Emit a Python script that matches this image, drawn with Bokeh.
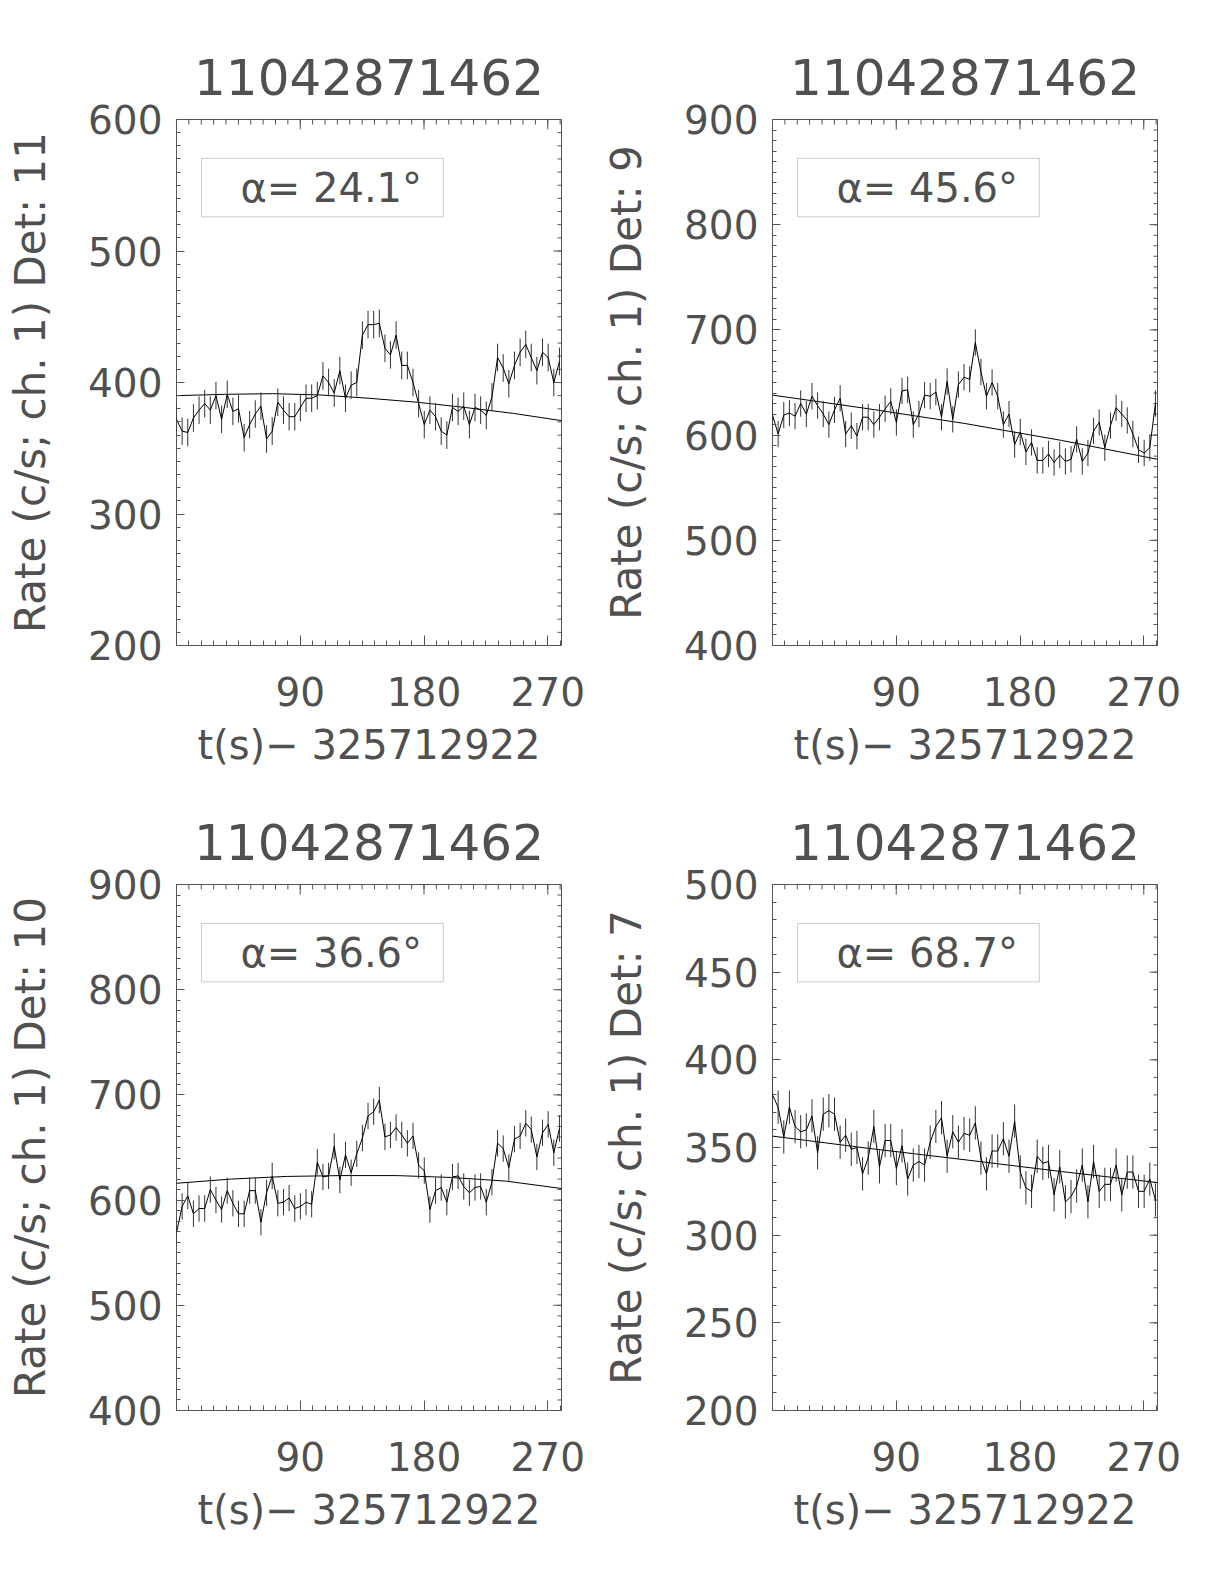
import math
from bokeh.plotting import figure
from bokeh.models import Range1d, FixedTicker, LinearAxis, Label, BoxAnnotation
from bokeh.layouts import column, row
from bokeh.embed import file_html
from bokeh.resources import INLINE

# ---------------- data ----------------
title_text = "11042871462"
x_label = "t(s)\u2212 325712922"
x_lim = (0, 280)
x_major = [90, 180, 270]
x_minor = list(range(0, 281, 9))

t = [0.0, 4.1, 8.2, 12.3, 16.4, 20.5, 24.6, 28.7, 32.8, 36.9, 41.0, 45.1, 49.2,
     53.2, 57.3, 61.4, 65.5, 69.6, 73.7, 77.8, 81.9, 86.0, 90.1, 94.2, 98.3,
     102.4, 106.5, 110.6, 114.7, 118.8, 122.9, 127.0, 131.1, 135.2, 139.3,
     143.4, 147.5, 151.6, 155.6, 159.7, 163.8, 167.9, 172.0, 176.1, 180.2,
     184.3, 188.4, 192.5, 196.6, 200.7, 204.8, 208.9, 213.0, 217.1, 221.2,
     225.3, 229.4, 233.5, 237.6, 241.7, 245.8, 249.9, 254.0, 258.0, 262.1,
     266.2, 270.3, 274.4, 278.5]

# Det 11
rate_d11 = [372, 363, 362, 373, 379, 384, 379, 390, 372, 391,
            378, 380, 358, 368, 376, 382, 357, 363, 385, 379,
            374, 374, 381, 388, 388, 390, 405, 400, 392, 409,
            388, 398, 400, 436, 444, 444, 445, 426, 421, 436,
            413, 413, 400, 384, 368, 379, 374, 363, 360, 381,
            378, 382, 368, 381, 379, 375, 389, 419, 411, 399,
            413, 423, 429, 419, 409, 423, 419, 400, 416]
err_d11 = 10.5
fit_t_d11 = [0, 35, 70, 105, 140, 175, 210, 245, 280]
fit_d11 = [390, 391, 391.5, 390.5, 388, 385, 381, 376.5, 371]

# Det 9
rate_d9 = [619, 601, 619, 621, 618, 630, 620, 637, 628, 620,
           610, 624, 635, 601, 609, 599, 617, 617, 610, 617,
           625, 632, 612, 642, 643, 610, 620, 638, 637, 641,
           617, 651, 615, 648, 655, 653, 688, 660, 637, 650,
           637, 610, 620, 591, 603, 584, 593, 576, 576, 582,
           574, 581, 575, 577, 596, 575, 583, 604, 612, 588,
           609, 626, 620, 614, 601, 586, 583, 588, 630]
err_d9 = 12.5
fit_t_d9 = [0, 70, 140, 210, 280]
fit_d9 = [638, 625, 611, 595, 577]

# Det 10
rate_d10 = [569, 594, 604, 587, 592, 592, 610, 600, 591, 609,
            597, 587, 587, 609, 609, 579, 607, 623, 597, 598,
            602, 592, 594, 598, 596, 636, 622, 623, 651, 619,
            643, 626, 644, 659, 680, 684, 695, 660, 662, 669,
            662, 654, 661, 633, 628, 591, 609, 612, 598, 622,
            623, 613, 607, 612, 613, 598, 617, 654, 649, 631,
            658, 661, 673, 667, 641, 664, 672, 645, 668]
err_d10 = 12.5
fit_t_d10 = [0, 40, 80, 120, 160, 200, 240, 280]
fit_d10 = [616, 620, 622.5, 623.3, 623.3, 621.5, 618, 611]

# Det 7
rate_d7 = [380, 373, 356, 373, 362, 359, 360, 368, 347, 369,
           371, 369, 353, 357, 349, 350, 335, 344, 362, 339,
           354, 354, 338, 351, 332, 340, 342, 340, 353, 362,
           367, 345, 359, 353, 358, 357, 364, 344, 335, 348,
           348, 355, 345, 365, 336, 327, 325, 345, 341, 342,
           323, 339, 319, 322, 328, 340, 319, 342, 325, 329,
           329, 340, 323, 336, 336, 325, 325, 332, 320]
err_d7 = 9.5
fit_t_d7 = [0, 70, 140, 210, 280]
fit_d7 = [356.5, 349.5, 343, 336.3, 330]

y_ticks_d11 = [200, 300, 400, 500, 600]
y_ticks_d9 = [400, 500, 600, 700, 800, 900]
y_ticks_d10 = [400, 500, 600, 700, 800, 900]
y_ticks_d7 = [200, 250, 300, 350, 400, 450, 500]

# ---------------- style ----------------
FONT = "DejaVu Sans"
TXT = "#505050"
FRAME = "#555555"
TICK_SIZE = "39px"
XLBL_SIZE = "40px"
YLBL_SIZE = "42px"


def panel(ylim, yticks, ylabel, alpha_txt, rate, err, fit_t, fit_v, top_border, bottom_border):
    p = figure(width=596, height=top_border + 526 + bottom_border,
               x_range=Range1d(*x_lim), y_range=Range1d(*ylim),
               output_backend="svg", toolbar_location=None,
               min_border_left=176, min_border_right=35,
               min_border_top=top_border, min_border_bottom=bottom_border)
    p.xaxis.visible = False
    p.yaxis.visible = False
    p.grid.visible = False
    p.outline_line_color = FRAME
    p.outline_line_width = 1
    p.background_fill_color = "white"
    p.border_fill_color = "white"

    ymin, ymax = ylim
    yminor = list(range(ymin, ymax + 1, 10))
    xt = FixedTicker(ticks=x_major, minor_ticks=x_minor)
    yt = FixedTicker(ticks=yticks, minor_ticks=yminor)

    def style(ax, tin, tmin):
        ax.axis_line_color = None
        ax.major_tick_line_color = FRAME
        ax.minor_tick_line_color = FRAME
        ax.major_tick_in = tin
        ax.major_tick_out = 0
        ax.minor_tick_in = tmin
        ax.minor_tick_out = 0
        ax.major_label_text_font = FONT
        ax.major_label_text_font_size = TICK_SIZE
        ax.major_label_text_color = TXT
        ax.axis_label_text_font = FONT
        ax.axis_label_text_font_style = "normal"
        ax.axis_label_text_color = TXT

    bx = LinearAxis(ticker=xt, axis_label=x_label)
    style(bx, 10, 5)
    bx.axis_label_text_font_size = XLBL_SIZE
    bx.major_label_standoff = 31
    bx.axis_label_standoff = 13
    p.add_layout(bx, "below")

    ly = LinearAxis(ticker=yt, axis_label=ylabel)
    style(ly, 8, 4)
    ly.axis_label_text_font_size = YLBL_SIZE
    ly.major_label_standoff = 14
    ly.axis_label_standoff = 30
    p.add_layout(ly, "left")

    # mirrored inward ticks on the top and right edges of the frame
    p.ray(x=x_major, y=[ymax] * len(x_major), length=10, length_units="screen",
          angle=-math.pi / 2, line_color=FRAME, line_width=1)
    p.ray(x=x_minor, y=[ymax] * len(x_minor), length=5, length_units="screen",
          angle=-math.pi / 2, line_color=FRAME, line_width=1)
    p.ray(x=[x_lim[1]] * len(yticks), y=yticks, length=8, length_units="screen",
          angle=math.pi, line_color=FRAME, line_width=1)
    p.ray(x=[x_lim[1]] * len(yminor), y=yminor, length=4, length_units="screen",
          angle=math.pi, line_color=FRAME, line_width=1)

    p.title.text = title_text
    p.title.align = "center"
    p.title.text_font = FONT
    p.title.text_font_size = "50px"
    p.title.text_font_style = "normal"
    p.title.text_color = TXT
    p.title.standoff = 50

    # model
    p.line(fit_t, fit_v, line_color="black", line_width=1)
    # error bars
    lo = [r - err for r in rate]
    hi = [r + err for r in rate]
    p.segment(x0=t, y0=lo, x1=t, y1=hi, line_color="#333333", line_width=1)
    p.line(t, rate, line_color="black", line_width=1)

    # legend box (positions as fractions of the frame)
    xspan = x_lim[1] - x_lim[0]
    yspan = ymax - ymin
    box = BoxAnnotation(left=x_lim[0] + 0.065 * xspan, right=x_lim[0] + 0.693 * xspan,
                        top=ymax - 0.074 * yspan, bottom=ymax - 0.185 * yspan,
                        fill_color=None, fill_alpha=0,
                        line_color=FRAME, line_width=1)
    p.add_layout(box)
    lab = Label(x=x_lim[0] + 0.166 * xspan, y=ymax - 0.13 * yspan,
                text=alpha_txt, text_font=FONT, text_font_size="40px",
                text_color=TXT, text_baseline="middle", text_align="left")
    p.add_layout(lab)
    return p


p1 = panel((200, 600), y_ticks_d11, "Rate (c/s; ch. 1) Det: 11", "\u03b1= 24.1\u00b0",
           rate_d11, err_d11, fit_t_d11, fit_d11, 119, 140)
p2 = panel((400, 900), y_ticks_d9, "Rate (c/s; ch. 1) Det: 9", "\u03b1= 45.6\u00b0",
           rate_d9, err_d9, fit_t_d9, fit_d9, 119, 140)
p3 = panel((400, 900), y_ticks_d10, "Rate (c/s; ch. 1) Det: 10", "\u03b1= 36.6\u00b0",
           rate_d10, err_d10, fit_t_d10, fit_d10, 99, 140)
p4 = panel((200, 500), y_ticks_d7, "Rate (c/s; ch. 1) Det: 7", "\u03b1= 68.7\u00b0",
           rate_d7, err_d7, fit_t_d7, fit_d7, 99, 140)

layout = column(row(p1, p2), row(p3, p4))
open("out.html", "w").write(file_html(layout, INLINE))
